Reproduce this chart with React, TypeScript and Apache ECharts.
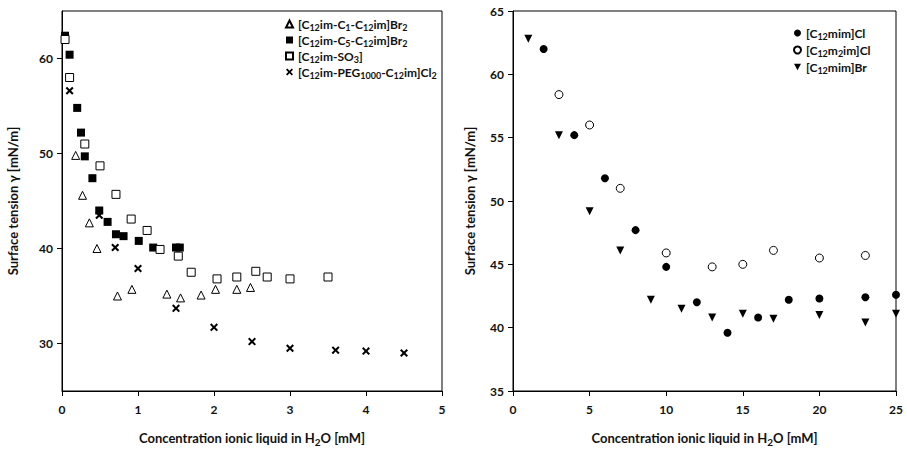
import React, { useEffect, useRef } from "react";
import * as echarts from "echarts";

// Left panel data [concentration mM, surface tension mN/m]
const c1Br2: number[][] = [[0.18,49.8],[0.27,45.6],[0.36,42.7],[0.46,40.0],[0.73,35.0],[0.92,35.7],[1.38,35.2],[1.56,34.8],[1.83,35.1],[2.02,35.7],[2.30,35.7],[2.48,35.9]];
const c5Br2: number[][] = [[0.04,62.4],[0.10,60.4],[0.20,54.8],[0.25,52.2],[0.30,49.7],[0.40,47.4],[0.49,44.0],[0.60,42.8],[0.71,41.5],[0.81,41.3],[1.01,40.8],[1.20,40.1],[1.50,40.1],[1.55,40.1]];
const so3: number[][] = [[0.04,62.0],[0.10,58.0],[0.30,51.0],[0.50,48.7],[0.71,45.7],[0.91,43.1],[1.12,41.9],[1.29,39.9],[1.53,39.2],[1.70,37.5],[2.04,36.8],[2.30,37.0],[2.55,37.6],[2.70,37.0],[3.00,36.8],[3.50,37.0]];
const peg: number[][] = [[0.10,56.6],[0.49,43.5],[0.70,40.1],[1.0,37.9],[1.50,33.7],[2.0,31.7],[2.50,30.2],[3.0,29.5],[3.6,29.3],[4.0,29.2],[4.5,29.0]];

// Right panel data
const mimCl: number[][] = [[2,62.0],[4,55.2],[6,51.8],[8,47.7],[10,44.8],[12,42.0],[14,39.6],[16,40.8],[18,42.2],[20,42.3],[23,42.4],[25,42.6]];
const m2imCl: number[][] = [[3,58.4],[5,56.0],[7,51.0],[10,45.9],[13,44.8],[15,45.0],[17,46.1],[20,45.5],[23,45.7]];
const mimBr: number[][] = [[1,62.8],[3,55.2],[5,49.2],[7,46.1],[9,42.2],[11,41.5],[13,40.8],[15,41.1],[17,40.7],[20,41.0],[23,40.4],[25,41.1]];

const leftYTicks = [30, 40, 50, 60];

const names = {
  c1: "[C12im-C1-C12im]Br2",
  c5: "[C12im-C5-C12im]Br2",
  so3: "[C12im-SO3]",
  peg: "[C12im-PEG1000-C12im]Cl2",
  mimCl: "[C12mim]Cl",
  m2imCl: "[C12m2im]Cl",
  mimBr: "[C12mim]Br",
};

const richNames: Record<string, string> = {
  [names.c1]: "{n|[C}{s|12}{n|im-C}{s|1}{n|-C}{s|12}{n|im]Br}{s|2}",
  [names.c5]: "{n|[C}{s|12}{n|im-C}{s|5}{n|-C}{s|12}{n|im]Br}{s|2}",
  [names.so3]: "{n|[C}{s|12}{n|im-SO}{s|3}{n|]}",
  [names.peg]: "{n|[C}{s|12}{n|im-PEG}{s|1000}{n|-C}{s|12}{n|im]Cl}{s|2}",
  [names.mimCl]: "{n|[C}{s|12}{n|mim]Cl}",
  [names.m2imCl]: "{n|[C}{s|12}{n|m}{s|2}{n|im]Cl}",
  [names.mimBr]: "{n|[C}{s|12}{n|mim]Br}",
};

const FONT = "Lato";
const INK = "#111";
const crossPath =
  "path://M0,1.8L1.8,0L5,3.2L8.2,0L10,1.8L6.8,5L10,8.2L8.2,10L5,6.8L1.8,10L0,8.2L3.2,5Z";
const triDownPath = "path://M0,0L10,0L5,9Z";

const rich = {
  n: { fontSize: 12, fontWeight: "bold", fontFamily: FONT, color: INK, lineHeight: 16, height: 16 },
  s: { fontSize: 9, fontWeight: "bold", fontFamily: FONT, color: INK, lineHeight: 9, height: 9, padding: [7, 0, 0, 0] },
};

const xName = "{n|Concentration ionic liquid in H}{sx|2}{n|O [mM]}";
const yName = "Surface tension γ [mN/m]";
const nameRich = {
  n: { fontSize: 13, fontWeight: "bold", fontFamily: FONT, color: INK, lineHeight: 18, height: 18 },
  sx: { fontSize: 10, fontWeight: "bold", fontFamily: FONT, color: INK, lineHeight: 10, height: 10, padding: [8, 0, 0, 0] },
};

const axisCommon = {
  axisLine: { show: true, lineStyle: { color: "#000", width: 1 } },
  axisTick: { show: true, length: 5, lineStyle: { color: "#000" } },
  splitLine: { show: false },
};
const labelStyle = { fontSize: 12, fontWeight: "bold", fontFamily: FONT, color: INK };

export default function App() {
  const ref = useRef<HTMLDivElement>(null);
  useEffect(() => {
    if (!ref.current) return;
    const chart = echarts.init(ref.current, undefined, { renderer: "svg" });
    const open = { color: "#fff", borderColor: "#000", borderWidth: 1, opacity: 1 };
    const filled = { color: "#000", borderColor: "#000", borderWidth: 0, opacity: 1 };
    const legendText = { rich, fontSize: 12, fontFamily: FONT, fontWeight: "bold", color: INK };
    chart.setOption({
      animation: false,
      backgroundColor: "#fff",
      grid: [
        { left: 62, right: 465, top: 11, bottom: 61, show: true, borderColor: "#000", borderWidth: 1, backgroundColor: "transparent" },
        { left: 513, right: 11, top: 11, bottom: 61, show: true, borderColor: "#000", borderWidth: 1, backgroundColor: "transparent" },
      ],
      xAxis: [
        {
          gridIndex: 0, type: "value", min: 0, max: 5, interval: 1, ...axisCommon,
          axisLabel: { ...labelStyle, margin: 12 },
          name: xName, nameLocation: "middle", nameGap: 38, nameTextStyle: { rich: nameRich },
        },
        {
          gridIndex: 1, type: "value", min: 0, max: 25, interval: 5, ...axisCommon,
          axisLabel: { ...labelStyle, margin: 12 },
          name: xName, nameLocation: "middle", nameGap: 38, nameTextStyle: { rich: nameRich },
        },
      ],
      yAxis: [
        {
          gridIndex: 0, type: "value", min: 25, max: 65, ...axisCommon,
          axisTick: { show: true, length: 5, lineStyle: { color: "#000" }, customValues: leftYTicks },
          axisLabel: { ...labelStyle, margin: 9, customValues: leftYTicks },
          name: yName, nameLocation: "middle", nameGap: 43,
          nameTextStyle: { fontSize: 13, fontWeight: "bold", fontFamily: FONT, color: INK },
        },
        {
          gridIndex: 1, type: "value", min: 35, max: 65, interval: 5, ...axisCommon,
          axisLabel: { ...labelStyle, margin: 9 },
          name: yName, nameLocation: "middle", nameGap: 37,
          nameTextStyle: { fontSize: 13, fontWeight: "bold", fontFamily: FONT, color: INK },
        },
      ],
      legend: [
        {
          data: [names.c1, names.c5, names.so3, names.peg],
          orient: "vertical", left: 280, top: 11, itemWidth: 7, itemHeight: 7, itemGap: 0,
          formatter: (n: string) => richNames[n] ?? n,
          textStyle: legendText,
        },
        {
          data: [
            { name: names.mimCl },
            { name: names.m2imCl },
            { name: names.mimBr, icon: triDownPath },
          ],
          orient: "vertical", left: 788, top: 20, itemWidth: 7, itemHeight: 7, itemGap: 1,
          formatter: (n: string) => richNames[n] ?? n,
          textStyle: legendText,
        },
      ],
      series: [
        { name: names.c1, type: "scatter", xAxisIndex: 0, yAxisIndex: 0, data: c1Br2, symbol: "triangle", symbolSize: 8, itemStyle: open },
        { name: names.c5, type: "scatter", xAxisIndex: 0, yAxisIndex: 0, data: c5Br2, symbol: "rect", symbolSize: 8, itemStyle: filled },
        { name: names.so3, type: "scatter", xAxisIndex: 0, yAxisIndex: 0, data: so3, symbol: "rect", symbolSize: 8, itemStyle: open },
        { name: names.peg, type: "scatter", xAxisIndex: 0, yAxisIndex: 0, data: peg, symbol: crossPath, symbolSize: 8, itemStyle: filled },
        { name: names.mimCl, type: "scatter", xAxisIndex: 1, yAxisIndex: 1, data: mimCl, symbol: "circle", symbolSize: 8, itemStyle: filled, clip: false },
        { name: names.m2imCl, type: "scatter", xAxisIndex: 1, yAxisIndex: 1, data: m2imCl, symbol: "circle", symbolSize: 8, itemStyle: open, clip: false },
        { name: names.mimBr, type: "scatter", xAxisIndex: 1, yAxisIndex: 1, data: mimBr, symbol: triDownPath, symbolSize: 8, itemStyle: filled, clip: false },
      ],
    });
    return () => chart.dispose();
  }, []);
  return (
    <div
      ref={ref}
      style={{ position: "fixed", left: 0, top: 0, width: 907, height: 452, background: "#fff" }}
    />
  );
}
